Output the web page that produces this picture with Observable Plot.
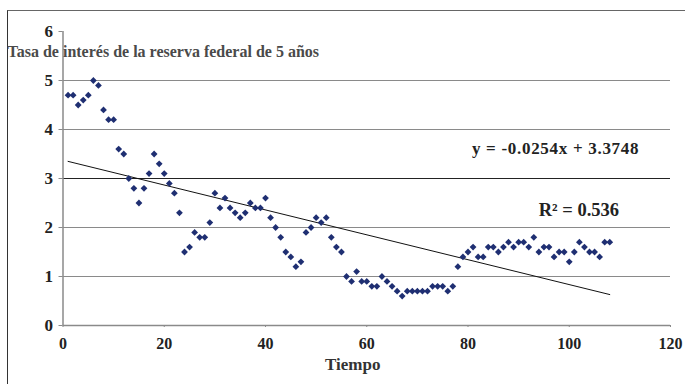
<!DOCTYPE html>
<html><head><meta charset="utf-8">
<script src="https://cdn.jsdelivr.net/npm/d3@7"></script>
<script src="https://cdn.jsdelivr.net/npm/@observablehq/plot@0.6"></script>
<style>
body{margin:0;background:#fff;}
#wrap{position:relative;width:685px;height:384px;overflow:hidden;background:#fff;}
#frame{position:absolute;left:7px;top:10px;width:720px;height:420px;border-left:1.5px solid #333;border-top:1.5px solid #666;}
#chart{position:absolute;left:0;top:0;}
</style></head><body>
<div id="wrap"><div id="frame"></div><div id="chart"></div></div>
<script>
const tiempo = [1,2,3,4,5,6,7,8,9,10,11,12,13,14,15,16,17,18,19,20,
  21,22,23,24,25,26,27,28,29,30,31,32,33,34,35,36,37,38,39,40,
  41,42,43,44,45,46,47,48,49,50,51,52,53,54,55,56,57,58,59,60,
  61,62,63,64,65,66,67,68,69,70,71,72,73,74,75,76,77,78,79,80,
  81,82,83,84,85,86,87,88,89,90,91,92,93,94,95,96,97,98,99,100,
  101,102,103,104,105,106,107,108];
const tasa = [4.7,4.7,4.5,4.6,4.7,5.0,4.9,4.4,4.2,4.2,3.6,3.5,3.0,2.8,2.5,2.8,3.1,3.5,3.3,3.1,
  2.9,2.7,2.3,1.5,1.6,1.9,1.8,1.8,2.1,2.7,2.4,2.6,2.4,2.3,2.2,2.3,2.5,2.4,2.4,2.6,
  2.2,2.0,1.8,1.5,1.4,1.2,1.3,1.9,2.0,2.2,2.1,2.2,1.8,1.6,1.5,1.0,0.9,1.1,0.9,0.9,
  0.8,0.8,1.0,0.9,0.8,0.7,0.6,0.7,0.7,0.7,0.7,0.7,0.8,0.8,0.8,0.7,0.8,1.2,1.4,1.5,
  1.6,1.4,1.4,1.6,1.6,1.5,1.6,1.7,1.6,1.7,1.7,1.6,1.8,1.5,1.6,1.6,1.4,1.5,1.5,1.3,
  1.5,1.7,1.6,1.5,1.5,1.4,1.7,1.7];
const xTicks = [0,20,40,60,80,100,120];
const yTicks = [0,1,2,3,4,5,6];
const gridValues = [1,2,4,5];
const gridDark = [3];
const slope = -0.0254;
const intercept = 3.3748;
const r2 = 0.536;
const yTitle = "Tasa de interés de la reserva federal de 5 años";
const xTitle = "Tiempo";

const points = tiempo.map((t, i) => ({t, v: tasa[i]}));
const xs = [d3.min(tiempo), d3.max(tiempo)];
const trend = xs.map(t => ({t, v: intercept + slope * t}));
const eqLabel = `y = ${slope.toFixed(4)}x + ${intercept.toFixed(4)}`;
const r2Label = `R² = ${r2}`;

const chart = Plot.plot({
  width: 685, height: 384,
  marginLeft: 62.5, marginRight: 15, marginTop: 31, marginBottom: 59,
  x: {domain: [0, 120]},
  y: {domain: [0, 6]},
  style: {fontFamily: "'Liberation Serif','Times New Roman',serif", fontWeight: "bold", fontSize: "15px", background: "transparent", color: "#222", overflow: "visible"},
  marks: [
    Plot.ruleY(gridValues, {stroke: "#8a8a8a", strokeWidth: 1.2}),
    Plot.ruleY(gridDark, {stroke: "#222", strokeWidth: 1.2}),
    Plot.ruleY([0], {stroke: "#8a8a8a", strokeWidth: 1.5}),
    Plot.ruleX([0], {stroke: "#8a8a8a", strokeWidth: 1.5}),
    Plot.axisY({ticks: yTicks, tickFormat: "d", tickSize: 4, tickPadding: 6, stroke: "#8a8a8a", label: null, fontSize: 17}),
    Plot.axisX({ticks: xTicks, tickFormat: "d", tickSize: 2, tickPadding: 10, stroke: "#8a8a8a", label: null, fontSize: 16}),
    Plot.text([xTitle], {frameAnchor: "bottom", lineAnchor: "middle", dx: -14, dy: 39, fill: "#333", fontSize: 17}),
    Plot.line(trend, {x: "t", y: "v", stroke: "#111", strokeWidth: 1}),
    Plot.dot(points, {x: "t", y: "v", symbol: "square", rotate: 45, r: 2.7, fill: "#1f2f72", stroke: "none"}),
    Plot.text([yTitle], {frameAnchor: "top-left", dx: -55.5, dy: 14, textAnchor: "start", fill: "#4a4a4a", fontSize: 16}),
    Plot.text([eqLabel], {x: 97.3, y: 3.62, fill: "#222", fontSize: 17}),
    Plot.text([r2Label], {x: 101.9, y: 2.36, fill: "#222", fontSize: 18.5})
  ]
});
d3.select(chart).selectAll("text").filter(function() { return this.textContent === eqLabel; })
  .style("letter-spacing", "0.7px");
document.getElementById("chart").appendChild(chart);
</script>
</body></html>
